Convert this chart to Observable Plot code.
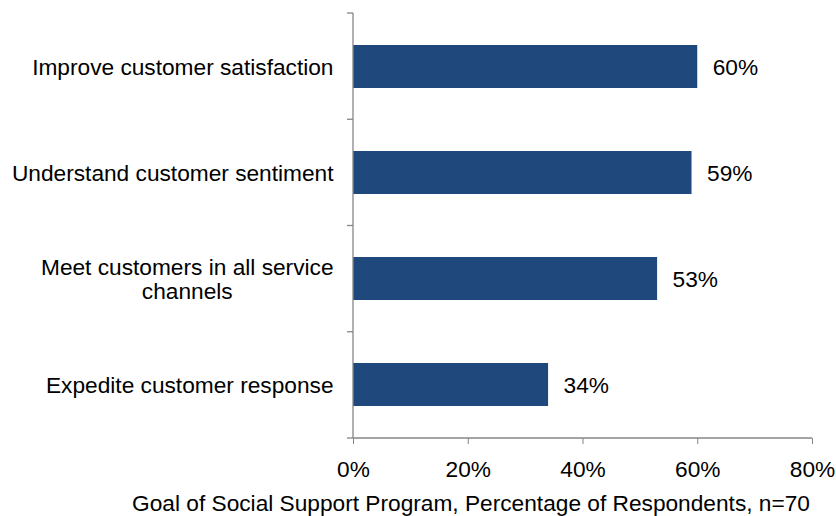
<!DOCTYPE html>
<html><head><meta charset="utf-8">
<script src="https://cdn.jsdelivr.net/npm/d3@7"></script>
<script src="https://cdn.jsdelivr.net/npm/@observablehq/plot@0.6"></script>
<style>body{margin:0;background:#fff}</style>
</head><body><div id="chart"></div>
<script>
const categories = [
  "Improve customer satisfaction",
  "Understand customer sentiment",
  "Meet customers in all service\nchannels",
  "Expedite customer response"
];
const values = [0.60, 0.59, 0.53, 0.34];
const xTicks = [0, 0.2, 0.4, 0.6, 0.8];
const caption = "Goal of Social Support Program, Percentage of Respondents, n=70";

const data = categories.map((c, i) => ({category: c, value: values[i]}));
const axisColor = "#868686";
const barColor = "#1F497D";
const pct = d3.format(".0%");
const FS = 22.7;

function axisLines(index, scales, vals, dim) {
  const g = d3.create("svg:g").attr("stroke", axisColor).attr("stroke-width", 1.3);
  const top = dim.marginTop, bottom = dim.height - dim.marginBottom;
  const left = dim.marginLeft, right = dim.width - dim.marginRight;
  const n = categories.length;
  g.append("line").attr("x1", left).attr("x2", left).attr("y1", top).attr("y2", bottom);
  g.append("line").attr("x1", left).attr("x2", right).attr("y1", bottom).attr("y2", bottom);
  for (let i = 0; i <= n; i++) {
    const yy = top + i * (bottom - top) / n;
    g.append("line").attr("x1", left - 6).attr("x2", left).attr("y1", yy).attr("y2", yy);
  }
  return g.node();
}

const plot = Plot.plot({
  width: 836,
  height: 516,
  marginLeft: 353,
  marginRight: 24,
  marginTop: 13,
  marginBottom: 78,
  style: {fontFamily: "'Liberation Sans', Arial, sans-serif", fontSize: FS + "px", color: "#000", background: "#fff"},
  x: {domain: [0, 0.8]},
  y: {domain: categories, paddingInner: 0.59, paddingOuter: 0.295, axis: null},
  marks: [
    Plot.barX(data, {x: "value", y: "category", fill: barColor}),
    Plot.text(data, {x: 0, y: "category", text: "category", textAnchor: "end", dx: -20, fill: "#000", fontSize: FS, lineHeight: 1.1, className: "catlabel"}),
    Plot.text(data, {x: "value", y: "category", text: d => pct(d.value), textAnchor: "start", dx: 15, dy: 1, fill: "#000", fontSize: FS}),
    Plot.axisX({ticks: xTicks, tickFormat: pct, tickSize: 6, tickPadding: 16, stroke: axisColor, fill: "#000", label: null, fontSize: FS}),
    axisLines,
    Plot.text([caption], {frameAnchor: "bottom", lineAnchor: "bottom", text: d => d, textAnchor: "middle", dx: -112, dy: 72, fill: "#000", fontSize: FS})
  ]
});
document.getElementById("chart").appendChild(plot);

// center multi-line category labels on their widest line (block stays right-aligned)
d3.select(plot).selectAll("g.catlabel text").each(function() {
  const spans = this.querySelectorAll("tspan");
  if (spans.length > 1) {
    let w = 0;
    spans.forEach(s => { w = Math.max(w, s.getComputedTextLength()); });
    this.setAttribute("text-anchor", "middle");
    spans.forEach(s => s.setAttribute("x", -w / 2));
  }
});
</script>
</body></html>
